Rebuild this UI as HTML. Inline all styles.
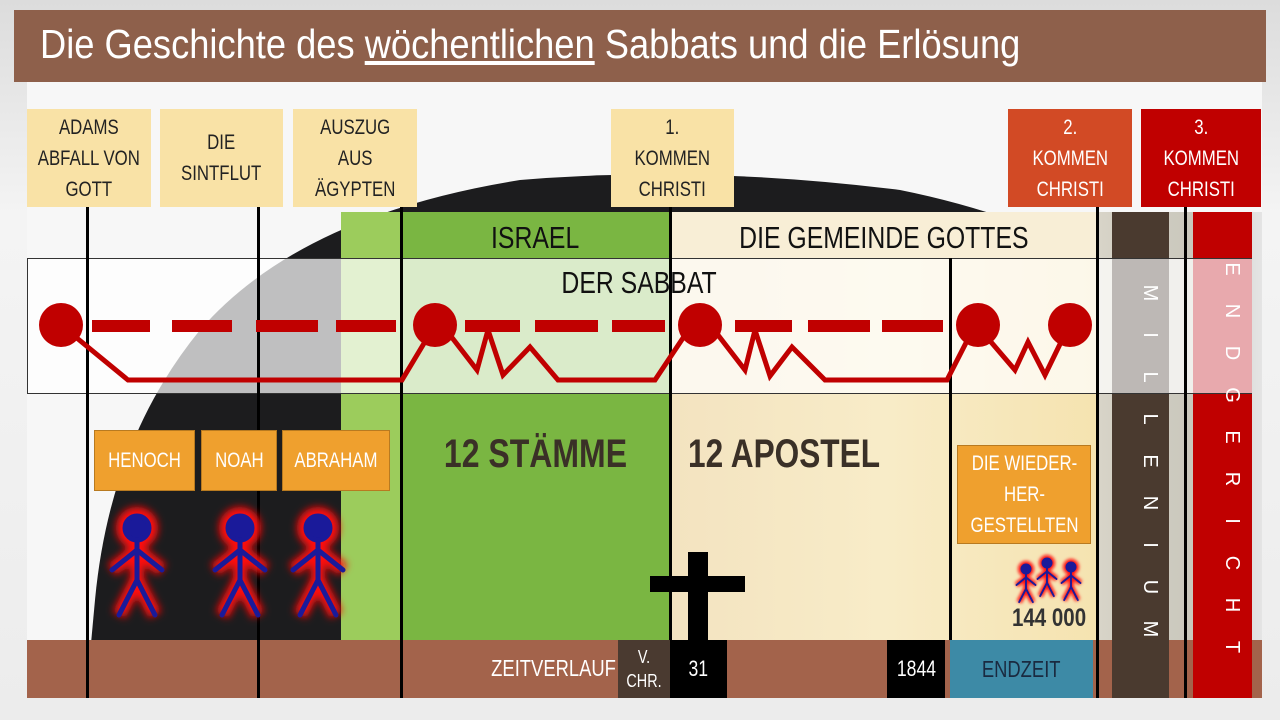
<!DOCTYPE html>
<html><head><meta charset="utf-8"><style>
*{margin:0;padding:0;box-sizing:border-box}
body{width:1280px;height:720px;overflow:hidden;background:#e9e9e9;position:relative;font-family:"Liberation Sans Narrow","Liberation Sans",sans-serif}
.a{position:absolute}
.n{display:inline-block;transform:scaleX(.8);white-space:nowrap}
.lbl{position:absolute;background:#f9e2a6;color:#222;font-size:21px;line-height:31px;text-align:center;display:flex;align-items:center;justify-content:center}
.ob{position:absolute;background:#efa02e;border:1px solid #b87a20;color:#fff;font-size:21px;text-align:center;display:flex;align-items:center;justify-content:center;line-height:31px}
.vl{position:absolute;width:3px;background:#000}
.vt{position:absolute;color:#fff;font-size:20px;text-align:center;width:40px;font-weight:300}
.vt span{display:block;transform:rotate(90deg)}
</style></head><body>
<div class="a" style="left:0;top:0;width:1280px;height:720px;background:linear-gradient(#dcdcdc,#f4f4f4 30%,#ececec)"></div>
<div class="a" style="left:14px;top:10px;width:1252px;height:72px;background:#8e604b"></div>
<div class="a" style="left:40px;top:16px;color:#fff;font-size:41px;line-height:56px;transform:scaleX(.885);transform-origin:left;white-space:nowrap">Die Geschichte des <u>wöchentlichen</u> Sabbats und die Erlösung</div>
<div class="a" style="left:27px;top:82px;width:1235px;height:616px;background:#f7f7f7"></div>
<svg class="a" style="left:0;top:0" width="1280" height="720">
<path d="M86,698 L95,600 Q110,440 200,330 Q300,215 520,180 Q700,165 900,190 Q1100,230 1262,360 L1262,698 Z" fill="#1c1c1e"/>
</svg>
<div class="a" style="left:1097px;top:212px;width:165px;height:428px;background:linear-gradient(90deg,#d8d4c8,#c9c7bc 60%,#e4e4e4)"></div>
<div class="a" style="left:341px;top:212px;width:60px;height:428px;background:#9ccc5c"></div>
<div class="a" style="left:401px;top:212px;width:269px;height:428px;background:#7ab642"></div>
<div class="a" style="left:670px;top:212px;width:427px;height:428px;background:linear-gradient(90deg,#f3e3c0,#f8ecc8 50%,#f5e3b0)"></div>
<div class="a" style="left:670px;top:212px;width:427px;height:46px;background:#f8eed6"></div>
<div class="a" style="left:401px;top:220px;width:269px;text-align:center;font-size:31px;color:#111"><span class="n">ISRAEL</span></div>
<div class="a" style="left:670px;top:220px;width:427px;text-align:center;font-size:31px;color:#111"><span class="n">DIE GEMEINDE GOTTES</span></div>
<div class="a" style="left:1112px;top:212px;width:57px;height:486px;background:#4a3a2f"></div>
<div class="a" style="left:1193px;top:212px;width:59px;height:486px;background:#c00000"></div>
<div class="a" style="left:27px;top:258px;width:1225px;height:136px;background:rgba(255,255,255,0.72);border:1.5px solid #333"></div>
<div class="a" style="left:27px;top:265px;width:1225px;text-align:center;font-size:31px;color:#111"><span class="n">DER SABBAT</span></div>
<div class="a" style="left:27px;top:640px;width:1235px;height:58px;background:#a3634b"></div>
<div class="a" style="left:460px;top:655px;width:150px;text-align:right;color:#fff;font-size:23px"><span class="n" style="transform-origin:right">ZEITVERLAUF</span></div>
<div class="a" style="left:618px;top:640px;width:52px;height:58px;background:#4a3a30;color:#fff;font-size:18px;text-align:center;line-height:24px;padding-top:5px"><span class="n">V.<br>CHR.</span></div>
<div class="a" style="left:670px;top:640px;width:57px;height:58px;background:#000;color:#fff;font-size:22px;text-align:center;line-height:58px"><span class="n">31</span></div>
<div class="a" style="left:887px;top:640px;width:58px;height:58px;background:#000;color:#fff;font-size:22px;text-align:center;line-height:58px"><span class="n">1844</span></div>
<div class="a" style="left:950px;top:640px;width:143px;height:58px;background:#3d8aa6;color:#1a2a40;font-size:23px;text-align:center;line-height:58px"><span class="n">ENDZEIT</span></div>
<div class="a" style="left:1112px;top:640px;width:57px;height:58px;background:#4a3a2f"></div>
<div class="a" style="left:1193px;top:640px;width:59px;height:58px;background:#c00000"></div>
<div class="a" style="left:1112px;top:259px;width:57px;height:134px;background:#bdb8b5"></div>
<div class="a" style="left:1193px;top:259px;width:59px;height:134px;background:#e8a9ad"></div>
<div class="vt" style="left:1120px;top:272px"><span style="height:42px">M</span><span style="height:42px">I</span><span style="height:42px">L</span><span style="height:42px">L</span><span style="height:42px">E</span><span style="height:42px">N</span><span style="height:42px">I</span><span style="height:42px">U</span><span style="height:42px">M</span></div>
<div class="vt" style="left:1202px;top:248px"><span style="height:42px">E</span><span style="height:42px">N</span><span style="height:42px">D</span><span style="height:42px">G</span><span style="height:42px">E</span><span style="height:42px">R</span><span style="height:42px">I</span><span style="height:42px">C</span><span style="height:42px">H</span><span style="height:42px">T</span></div>
<div class="vl" style="left:86px;top:206px;height:492px"></div>
<div class="vl" style="left:257px;top:206px;height:492px"></div>
<div class="vl" style="left:400px;top:206px;height:492px"></div>
<div class="vl" style="left:669px;top:206px;height:434px"></div>
<div class="vl" style="left:949px;top:258px;height:382px"></div>
<div class="vl" style="left:1096px;top:206px;height:492px"></div>
<div class="vl" style="left:1184px;top:206px;height:492px"></div>
<svg class="a" style="left:0;top:0" width="1280" height="720">
<g stroke="#c00000" stroke-width="12">
<line x1="92" y1="326" x2="150" y2="326"/><line x1="172" y1="326" x2="232" y2="326"/><line x1="256" y1="326" x2="318" y2="326"/><line x1="336" y1="326" x2="396" y2="326"/>
<line x1="465" y1="326" x2="520" y2="326"/><line x1="535" y1="326" x2="598" y2="326"/><line x1="612" y1="326" x2="665" y2="326"/>
<line x1="735" y1="326" x2="792" y2="326"/><line x1="808" y1="326" x2="870" y2="326"/><line x1="882" y1="326" x2="943" y2="326"/>
</g>
<g stroke="#c00000" stroke-width="5" fill="none">
<polyline points="61,325 128,380 402,380 432,330"/>
<polyline points="450,335 477,370 488,330 503,375 530,347 558,380 655,380 685,335"/>
<polyline points="718,335 745,370 755,330 770,376 792,347 825,380 947,380 970,335"/>
<polyline points="985,335 1015,370 1028,342 1045,375 1062,340"/>
</g>
<g fill="#c00000">
<circle cx="61" cy="325" r="22"/><circle cx="435" cy="325" r="22"/><circle cx="700" cy="325" r="22"/><circle cx="978" cy="325" r="22"/><circle cx="1070" cy="325" r="22"/>
</g>
<rect x="688" y="552" width="20" height="88" fill="#000"/>
<rect x="650" y="576" width="95" height="16" fill="#000"/>
<defs><filter id="gl" x="-50%" y="-50%" width="200%" height="200%"><feGaussianBlur stdDeviation="4"/></filter>
<g id="man"><g stroke="#ff1010" stroke-width="14" fill="#ff1010" filter="url(#gl)"><circle cx="0" cy="8" r="14"/><line x1="0" y1="20" x2="0" y2="60"/><line x1="-25" y1="50" x2="0" y2="30"/><line x1="25" y1="50" x2="0" y2="30"/><line x1="0" y1="60" x2="-18" y2="95"/><line x1="0" y1="60" x2="18" y2="95"/></g><g stroke="#1a1a9a" stroke-width="5" fill="#1a1a9a" stroke-linecap="round"><circle cx="0" cy="8" r="12"/><line x1="0" y1="20" x2="0" y2="60"/><line x1="-25" y1="50" x2="0" y2="30"/><line x1="25" y1="50" x2="0" y2="30"/><line x1="0" y1="60" x2="-18" y2="95"/><line x1="0" y1="60" x2="18" y2="95"/></g></g>
</defs>
<use href="#man" transform="translate(137,520)"/>
<use href="#man" transform="translate(240,520)"/>
<use href="#man" transform="translate(318,520)"/>
<use href="#man" transform="translate(1026,566) scale(0.38)"/>
<use href="#man" transform="translate(1047,560) scale(0.38)"/>
<use href="#man" transform="translate(1071,564) scale(0.38)"/>
</svg>
<div class="lbl" style="left:27px;top:109px;width:124px;height:98px"><span class="n">ADAMS<br>ABFALL VON<br>GOTT</span></div>
<div class="lbl" style="left:160px;top:109px;width:123px;height:98px"><span class="n">DIE<br>SINTFLUT</span></div>
<div class="lbl" style="left:293px;top:109px;width:124px;height:98px"><span class="n">AUSZUG<br>AUS<br>ÄGYPTEN</span></div>
<div class="lbl" style="left:611px;top:109px;width:123px;height:98px"><span class="n">1.<br>KOMMEN<br>CHRISTI</span></div>
<div class="lbl" style="left:1008px;top:109px;width:124px;height:98px;background:#d24a25;color:#fff"><span class="n">2.<br>KOMMEN<br>CHRISTI</span></div>
<div class="lbl" style="left:1141px;top:109px;width:120px;height:98px;background:#c00000;color:#fff"><span class="n">3.<br>KOMMEN<br>CHRISTI</span></div>
<div class="ob" style="left:94px;top:430px;width:101px;height:61px"><span class="n">HENOCH</span></div>
<div class="ob" style="left:201px;top:430px;width:76px;height:61px"><span class="n">NOAH</span></div>
<div class="ob" style="left:282px;top:430px;width:108px;height:61px"><span class="n">ABRAHAM</span></div>
<div class="ob" style="left:957px;top:445px;width:134px;height:99px"><span class="n">DIE WIEDER-<br>HER-<br>GESTELLTEN</span></div>
<div class="a" style="left:401px;top:432px;width:269px;text-align:center;font-size:40px;font-weight:bold;color:#3a3027"><span class="n">12 STÄMME</span></div>
<div class="a" style="left:688px;top:432px;font-size:40px;font-weight:bold;color:#3a3027;transform:scaleX(.79);transform-origin:left;white-space:nowrap">12 APOSTEL</div>
<div class="a" style="left:1012px;top:604px;font-size:25px;font-weight:bold;color:#333;transform:scaleX(.82);transform-origin:left;white-space:nowrap">144 000</div>
</body></html>
